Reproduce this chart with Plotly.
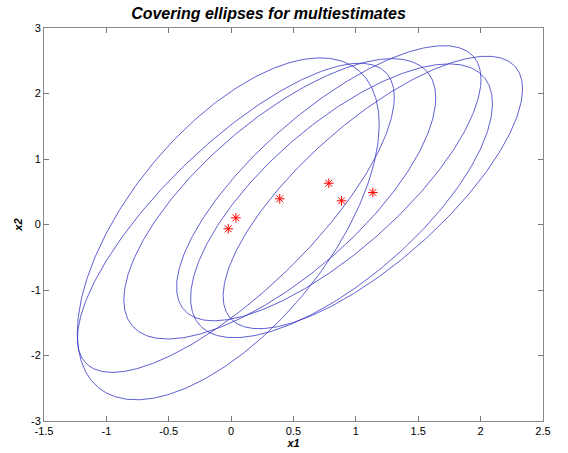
import numpy as np
import plotly.graph_objects as go

# Estimates (centres of the covering ellipses)
est_x1 = [-0.023, 0.038, 0.39, 0.783, 0.885, 1.136]
est_x2 = [-0.066, 0.102, 0.392, 0.63, 0.362, 0.489]
# Ellipse shape parameters: half extent along x1, along x2, and correlation
half_x1 = [1.21, 1.27, 1.25, 1.22, 1.21, 1.20]
half_x2 = [2.61, 2.36, 2.14, 2.10, 2.09, 2.08]
corr = [0.61, 0.78, 0.72, 0.755, 0.71, 0.76]

x_ticks = [-1.5, -1, -0.5, 0, 0.5, 1, 1.5, 2, 2.5]
y_ticks = [-3, -2, -1, 0, 1, 2, 3]

fig = go.Figure()
t = np.linspace(0, 2 * np.pi, 400)
for cx, cy, ax, ay, r in zip(est_x1, est_x2, half_x1, half_x2, corr):
    xs = cx + ax * np.cos(t)
    ys = cy + ay * (r * np.cos(t) + np.sqrt(1 - r * r) * np.sin(t))
    fig.add_trace(go.Scatter(x=xs, y=ys, mode="lines",
                             line=dict(color="rgb(55,55,200)", width=0.8),
                             hoverinfo="skip", showlegend=False))

fig.add_trace(go.Scatter(x=est_x1, y=est_x2, mode="markers",
                         marker=dict(symbol="asterisk-open", size=8,
                                     color="red",
                                     line=dict(color="rgb(225,20,20)", width=1)),
                         showlegend=False))

font = "Liberation Sans, Arial, sans-serif"
fig.update_layout(
    width=568, height=453,
    margin=dict(l=44, r=25, t=28, b=32, autoexpand=False),
    paper_bgcolor="white", plot_bgcolor="white",
    font=dict(family=font, size=11, color="black"),
    title=dict(text="<b><i>Covering ellipses for multiestimates</i></b>",
               x=268.5 / 568, xref="container", xanchor="center",
               y=1 - 13 / 453, yref="container", yanchor="middle",
               font=dict(size=16, family=font, color="black")),
    xaxis=dict(range=[-1.5, 2.5], tickvals=x_ticks,
               ticktext=[f"{v:g}" for v in x_ticks],
               ticks="inside", ticklen=5, tickcolor="#777",
               showline=True, linecolor="#888", linewidth=1, mirror="ticks",
               showgrid=False, zeroline=False, automargin=False,
               title=dict(text="<b><i>x1</i></b>", standoff=1,
                          font=dict(size=11))),
    yaxis=dict(range=[-3, 3], tickvals=y_ticks,
               ticktext=[f"{v:g}" for v in y_ticks],
               ticks="inside", ticklen=5, tickcolor="#777",
               showline=True, linecolor="#888", linewidth=1, mirror="ticks",
               showgrid=False, zeroline=False, automargin=False,
               title=dict(text="<b><i>x2</i></b>", standoff=6,
                          font=dict(size=11))),
)
fig.write_html("out.html", config={"displayModeBar": False},
               post_script="document.body.style.margin='0';document.body.style.overflow='hidden';")
